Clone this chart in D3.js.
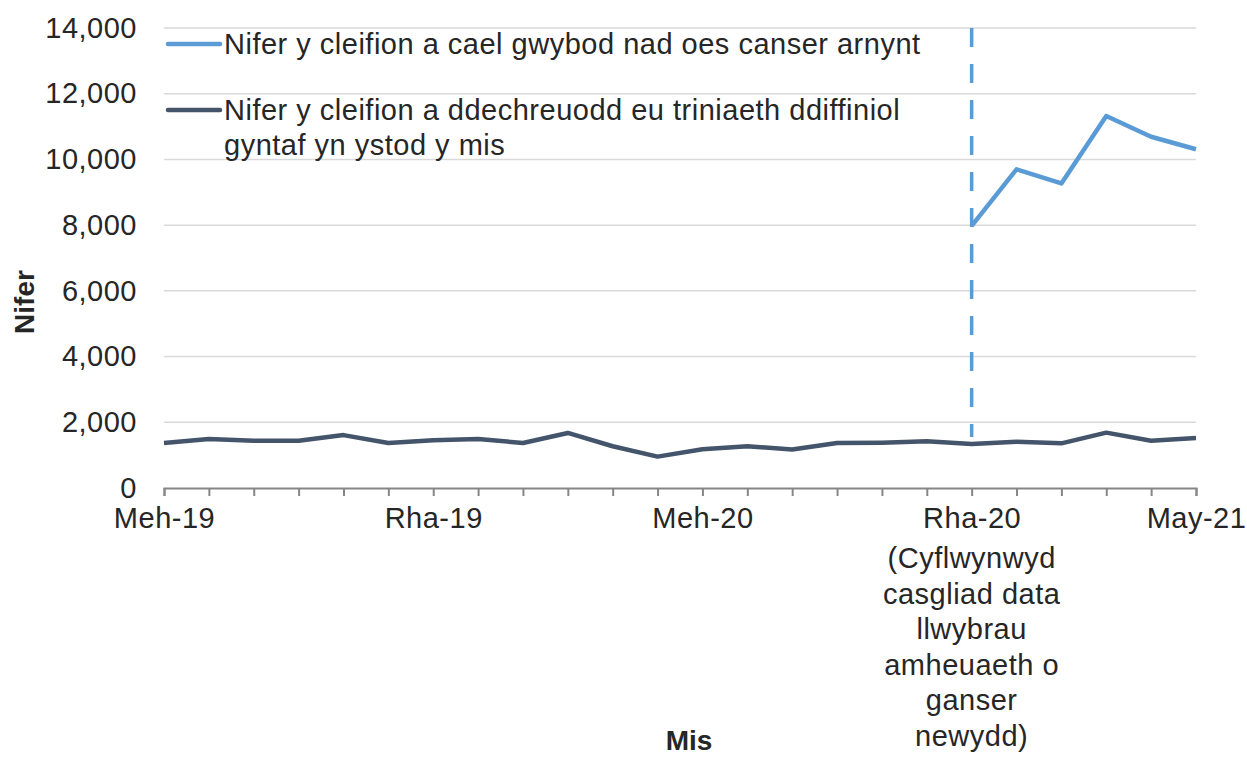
<!DOCTYPE html>
<html>
<head>
<meta charset="utf-8">
<script src="https://cdn.jsdelivr.net/npm/d3@7"></script>
<style>
  body { margin: 0; background: #fff; }
  text { font-family: "Liberation Sans", Arial, sans-serif; fill: #262626; }
</style>
</head>
<body>
<script>
const months = ['Meh-19', 'Gor-19', 'Aws-19', 'Med-19', 'Hyd-19', 'Tach-19',
  'Rha-19', 'Ion-20', 'Chw-20', 'Maw-20', 'Ebr-20', 'Mai-20',
  'Meh-20', 'Gor-20', 'Aws-20', 'Med-20', 'Hyd-20', 'Tach-20',
  'Rha-20', 'Ion-21', 'Chw-21', 'Maw-21', 'Ebr-21', 'May-21'];

const shownLabels = ['Meh-19', 'Rha-19', 'Meh-20', 'Rha-20', 'May-21'];
const noteLines = ['(Cyflwynwyd', 'casgliad data', 'llwybrau', 'amheuaeth o', 'ganser', 'newydd)'];

// dim ond o Rha-20 ymlaen
const notCancer = [null, null, null, null, null, null, null, null, null, null, null, null,
  null, null, null, null, null, null, 7980, 9700, 9270, 11320, 10690, 10310];

const treated = [1370, 1490, 1440, 1440, 1610, 1370, 1450, 1490, 1370, 1675, 1270, 955,
  1180, 1270, 1170, 1370, 1380, 1420, 1340, 1410, 1360, 1685, 1440, 1520];

const markerLine = [{ m: 'Rha-20', v: 14000 }, { m: 'Rha-20', v: 1550 }];

const yTicks = [0, 2000, 4000, 6000, 8000, 10000, 12000, 14000];

const legendItems = [
  { lines: ['Nifer y cleifion a cael gwybod nad oes canser arnynt'], color: '#5b9bd5' },
  { lines: ['Nifer y cleifion a ddechreuodd eu triniaeth ddiffiniol', 'gyntaf yn ystod y mis'], color: '#44546a' },
];

const W = 1247, H = 758;
const margin = { top: 28, right: 51, bottom: 270, left: 164 };
const fs = '29px';
const ls = '0.5px';

const svg = d3.select('body').append('svg')
  .attr('width', W)
  .attr('height', H);

const x = d3.scalePoint()
  .domain(months)
  .range([margin.left, W - margin.right]);

const y = d3.scaleLinear()
  .domain([0, 14000])
  .range([H - margin.bottom, margin.top]);

// gridlines
svg.append('g')
  .selectAll('line')
  .data(yTicks.filter(d => d > 0))
  .enter().append('line')
  .attr('x1', margin.left)
  .attr('x2', W - margin.right)
  .attr('y1', d => y(d))
  .attr('y2', d => y(d))
  .attr('stroke', '#d9d9d9')
  .attr('stroke-width', 1.5);

// y axis (labels only)
const yAxis = svg.append('g')
  .attr('transform', 'translate(' + (margin.left - 27) + ',0)')
  .call(d3.axisLeft(y).tickValues(yTicks).tickSize(0).tickFormat(d3.format(',')));
yAxis.select('.domain').remove();
yAxis.selectAll('text')
  .attr('x', 0)
  .style('font-size', fs)
  .style('letter-spacing', ls)
  .style('font-family', '"Liberation Sans", Arial, sans-serif')
  .style('fill', '#262626');

// x axis
const xAxis = svg.append('g')
  .attr('transform', 'translate(0,' + y(0) + ')')
  .call(d3.axisBottom(x).tickSizeOuter(0).tickSize(8)
    .tickFormat(d => shownLabels.includes(d) ? d : ''));
xAxis.select('.domain').attr('stroke', '#868686').attr('stroke-width', 2);
xAxis.selectAll('.tick line').attr('stroke', '#868686').attr('stroke-width', 2);
xAxis.selectAll('text')
  .attr('y', 18)
  .attr('dy', '0.76em')
  .style('font-size', fs)
  .style('letter-spacing', ls)
  .style('font-family', '"Liberation Sans", Arial, sans-serif')
  .style('fill', '#262626');

// extra lines under Rha-20
const note = xAxis.append('text')
  .attr('text-anchor', 'middle')
  .attr('transform', 'translate(' + x('Rha-20') + ',0)')
  .style('font-size', fs)
  .style('letter-spacing', ls);
note.selectAll('tspan')
  .data(noteLines)
  .enter().append('tspan')
  .attr('x', 0)
  .attr('y', (d, i) => 80 + i * 35.5)
  .text(d => d);

// dashed marker
svg.append('path')
  .datum(markerLine)
  .attr('fill', 'none')
  .attr('stroke', '#5b9bd5')
  .attr('stroke-width', 3.5)
  .attr('stroke-dasharray', '19,17')
  .attr('d', d3.line().x(d => x(d.m)).y(d => y(d.v)));

const line = d3.line()
  .defined(d => d.v != null)
  .x(d => x(d.m))
  .y(d => y(d.v));

svg.append('path')
  .datum(months.map((m, i) => ({ m: m, v: treated[i] })))
  .attr('fill', 'none')
  .attr('stroke', '#44546a')
  .attr('stroke-width', 4.5)
  .attr('stroke-linejoin', 'round')
  .attr('d', line);

svg.append('path')
  .datum(months.map((m, i) => ({ m: m, v: notCancer[i] })))
  .attr('fill', 'none')
  .attr('stroke', '#5b9bd5')
  .attr('stroke-width', 4.5)
  .attr('stroke-linejoin', 'round')
  .attr('d', line);

// legend
const legendY = [44, 110];
const lg = svg.append('g');
legendItems.forEach((item, i) => {
  lg.append('line')
    .attr('x1', 168).attr('x2', 220)
    .attr('y1', legendY[i]).attr('y2', legendY[i])
    .attr('stroke', item.color)
    .attr('stroke-width', 4.5)
    .attr('stroke-linecap', 'round');
  const t = lg.append('text')
    .style('font-size', fs)
    .style('letter-spacing', ls);
  t.selectAll('tspan')
    .data(item.lines)
    .enter().append('tspan')
    .attr('x', 224)
    .attr('y', (d, j) => legendY[i] + 10 + j * 35)
    .text(d => d);
});

// axis titles
svg.append('text')
  .attr('x', 689)
  .attr('y', 750)
  .attr('text-anchor', 'middle')
  .style('font-size', '28px')
  .style('font-weight', 'bold')
  .text('Mis');

svg.append('text')
  .attr('transform', 'translate(34,302) rotate(-90)')
  .attr('text-anchor', 'middle')
  .style('font-size', '28px')
  .style('font-weight', 'bold')
  .text('Nifer');
</script>
</body>
</html>
